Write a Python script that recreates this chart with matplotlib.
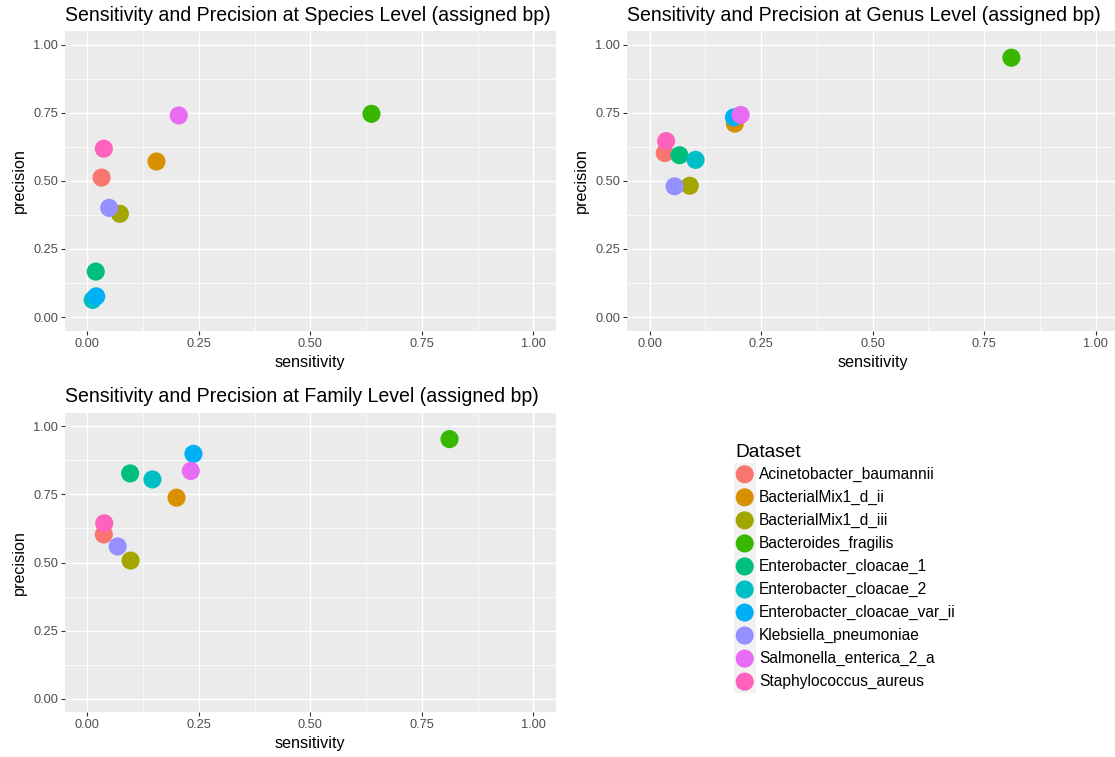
import matplotlib
matplotlib.use("Agg")
import matplotlib.pyplot as plt
from matplotlib.patches import Rectangle

datasets = ["Acinetobacter_baumannii", "BacterialMix1_d_ii", "BacterialMix1_d_iii",
            "Bacteroides_fragilis", "Enterobacter_cloacae_1", "Enterobacter_cloacae_2",
            "Enterobacter_cloacae_var_ii", "Klebsiella_pneumoniae",
            "Salmonella_enterica_2_a", "Staphylococcus_aureus"]
colors = ["#F8766D", "#D89000", "#A3A500", "#39B600", "#00BF7D",
          "#00BFC4", "#00B0F6", "#9590FF", "#E76BF3", "#FF62BC"]

species_sens = [0.032, 0.155, 0.073, 0.637, 0.019, 0.012, 0.020, 0.049, 0.205, 0.037]
species_prec = [0.512, 0.571, 0.379, 0.746, 0.167, 0.063, 0.076, 0.401, 0.740, 0.618]

genus_sens = [0.034, 0.191, 0.090, 0.811, 0.067, 0.103, 0.189, 0.056, 0.204, 0.037]
genus_prec = [0.602, 0.710, 0.482, 0.952, 0.594, 0.577, 0.733, 0.480, 0.742, 0.646]

family_sens = [0.037, 0.200, 0.097, 0.812, 0.096, 0.146, 0.238, 0.068, 0.232, 0.038]
family_prec = [0.603, 0.738, 0.507, 0.953, 0.827, 0.805, 0.899, 0.559, 0.836, 0.644]

titles = ["Sensitivity and Precision at Species Level (assigned bp)",
          "Sensitivity and Precision at Genus Level (assigned bp)",
          "Sensitivity and Precision at Family Level (assigned bp)"]
tick_vals = [0.0, 0.25, 0.5, 0.75, 1.0]
tick_labels = ["0.00", "0.25", "0.50", "0.75", "1.00"]
minor_vals = [0.125, 0.375, 0.625, 0.875]

plt.rcParams['font.family'] = ['Liberation Sans', 'DejaVu Sans']

W, H = 1115, 757
fig = plt.figure(figsize=(W / 100, H / 100), dpi=100)

def px_axes(x0, y0, x1, y1):
    return fig.add_axes([x0 / W, 1 - y1 / H, (x1 - x0) / W, (y1 - y0) / H])

pw = 490.7
ax1 = px_axes(65, 31, 65 + pw, 330.7)
ax2 = px_axes(627.3, 31, 627.3 + pw, 330.7)
ax3 = px_axes(65, 412.7, 65 + pw, 712.3)

panels = [(ax1, species_sens, species_prec, titles[0]),
          (ax2, genus_sens, genus_prec, titles[1]),
          (ax3, family_sens, family_prec, titles[2])]

for ax, xs, ys, title in panels:
    ax.set_facecolor("#EBEBEB")
    ax.set_xlim(-0.05, 1.05)
    ax.set_ylim(-0.05, 1.05)
    ax.set_xticks(tick_vals)
    ax.set_xticklabels(tick_labels)
    ax.set_yticks(tick_vals)
    ax.set_yticklabels(tick_labels)
    ax.set_xticks(minor_vals, minor=True)
    ax.set_yticks(minor_vals, minor=True)
    ax.grid(which="major", color="white", linewidth=1.0)
    ax.grid(which="minor", color="white", linewidth=0.5)
    ax.set_axisbelow(True)
    for s in ax.spines.values():
        s.set_visible(False)
    ax.tick_params(which="major", length=3.0, width=0.8, color="#333333",
                   labelcolor="#4D4D4D", labelsize=9.2, pad=2.0)
    ax.tick_params(which="minor", length=0)
    for x, y, c in zip(xs, ys, colors):
        ax.scatter([x], [y], s=170, color=c, edgecolors="none", zorder=3, clip_on=False)
    ax.set_xlabel("sensitivity", fontsize=11.6, color="black", labelpad=3.5)
    ax.set_ylabel("precision", fontsize=11.6, color="black", labelpad=4.5)
    ax.set_title(title, loc="left", fontsize=14.05, color="black", pad=7.5)

# Legend
leg = fig.add_axes([0, 0, 1, 1])
leg.set_xlim(0, W)
leg.set_ylim(H, 0)
leg.axis("off")
leg.text(735, 452.7, "Dataset", fontsize=13.8, va="center", ha="left")
step = 23.04
y0 = 474.3
for i, (name, c) in enumerate(zip(datasets, colors)):
    yc = y0 + i * step
    leg.add_patch(Rectangle((734, yc - step / 2), 21.5, step, facecolor="#F2F2F2",
                            edgecolor="none"))
    leg.scatter([744.7], [yc], s=170, color=c, edgecolors="none")
    leg.text(759, yc, name, fontsize=11.2, va="center", ha="left")

fig.savefig("out.png", dpi=100)
